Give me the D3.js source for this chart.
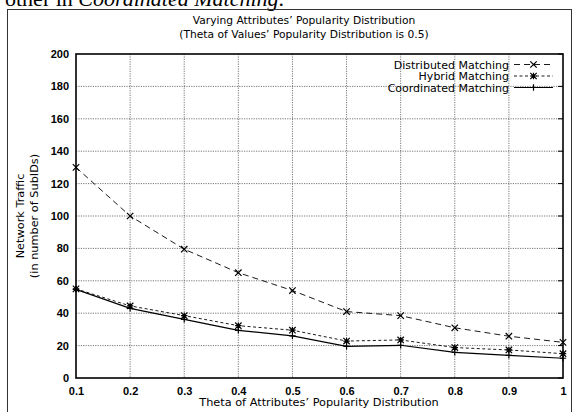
<!DOCTYPE html>
<html>
<head>
<meta charset="utf-8">
<script src="https://d3js.org/d3.v7.min.js"></script>
<style>
  body { margin: 0; background: #fff; }
  text { font-family: "DejaVu Sans", sans-serif; }
  .tick-lbl { font-family: "Liberation Sans", Arial, sans-serif; font-weight: bold; font-size: 11px; }
  .grid line { stroke: #555; stroke-width: 0.8; stroke-dasharray: 1.2 1.2; }
</style>
</head>
<body>
<svg width="580" height="412"></svg>
<script>
var thetas = [0.1, 0.2, 0.3, 0.4, 0.5, 0.6, 0.7, 0.8, 0.9, 1];
var distributed = [130, 100, 79.5, 65, 54, 41, 38.5, 31, 25.8, 22];
var hybrid = [55, 44.5, 38.5, 32.3, 29.5, 22.8, 23.5, 18.8, 17.3, 15];
var coordinated = [54.7, 43, 36.2, 29.4, 26, 19.5, 20.2, 15.8, 14, 12.2];
var yTicks = [0, 20, 40, 60, 80, 100, 120, 140, 160, 180, 200];
var xTickLabels = ["0.1", "0.2", "0.3", "0.4", "0.5", "0.6", "0.7", "0.8", "0.9", "1"];

var series = [
  {name: "Distributed Matching", values: distributed, dash: "6 4", marker: "x"},
  {name: "Hybrid Matching", values: hybrid, dash: "3 2.5", marker: "*"},
  {name: "Coordinated Matching", values: coordinated, dash: null, marker: "+"}
];

var svg = d3.select("svg");
var pLeft = 76, pRight = 563, pTop = 54, pBottom = 378;

var x = d3.scaleLinear().domain([0.1, 1]).range([pLeft, pRight]);
var y = d3.scaleLinear().domain([0, 200]).range([pBottom, pTop]);

// cropped line of the paper above the figure
var frag = svg.append("text").attr("x", 5).attr("y", 6)
  .style("font-family", "'Liberation Serif', serif").style("font-size", "22px");
frag.append("tspan").text("other in ");
frag.append("tspan").style("font-style", "italic").text("Coordinated Matching");
frag.append("tspan").text(".");

// outer frame
svg.append("rect").attr("x", 7.5).attr("y", 9.5).attr("width", 564).attr("height", 410)
  .attr("fill", "none").attr("stroke", "#333").attr("stroke-width", 1);

// title
svg.append("text").attr("x", 304).attr("y", 24).attr("text-anchor", "middle")
  .style("font-size", "10.7px").text("Varying Attributes\u2019 Popularity Distribution");
svg.append("text").attr("x", 304).attr("y", 38).attr("text-anchor", "middle")
  .style("font-size", "10.7px").text("(Theta of Values\u2019 Popularity Distribution is 0.5)");

// grid
var grid = svg.append("g").attr("class", "grid");
grid.selectAll(".h").data(yTicks.slice(1, -1)).enter().append("line")
  .attr("x1", pLeft).attr("x2", pRight).attr("y1", d => y(d)).attr("y2", d => y(d));
grid.selectAll(".v").data(thetas.slice(1, -1)).enter().append("line")
  .attr("y1", pTop).attr("y2", pBottom).attr("x1", d => x(d)).attr("x2", d => x(d));

// axes
var xAxis = d3.axisBottom(x).tickValues(thetas).tickSize(0).tickPadding(9)
  .tickFormat((d, i) => xTickLabels[i]);
var gx = svg.append("g").attr("transform", "translate(0," + pBottom + ")").call(xAxis);
gx.select(".domain").remove();
gx.selectAll("text").attr("class", "tick-lbl").attr("fill", "#000");

var yAxis = d3.axisLeft(y).tickValues(yTicks).tickSize(0).tickPadding(7);
var gy = svg.append("g").attr("transform", "translate(" + pLeft + ",0)").call(yAxis);
gy.select(".domain").remove();
gy.selectAll("text").attr("class", "tick-lbl").attr("fill", "#000");

// right side tick marks
svg.append("g").selectAll("line").data(yTicks).enter().append("line")
  .attr("x1", pRight - 5).attr("x2", pRight).attr("y1", d => y(d)).attr("y2", d => y(d))
  .attr("stroke", "#000");

// plot border
svg.append("rect").attr("x", pLeft).attr("y", pTop).attr("width", pRight - pLeft).attr("height", pBottom - pTop)
  .attr("fill", "none").attr("stroke", "#000").attr("stroke-width", 1.6);

// axis labels
svg.append("text").attr("x", 319).attr("y", 406).attr("text-anchor", "middle")
  .style("font-size", "11.3px").text("Theta of Attributes\u2019 Popularity Distribution");
var yl = svg.append("text").attr("transform", "translate(24,216) rotate(-90)")
  .attr("text-anchor", "middle").style("font-size", "11.3px");
yl.append("tspan").attr("x", 0).attr("dy", 0).text("Network Traffic");
yl.append("tspan").attr("x", 0).attr("dy", 14).text("(in number of SubIDs)");

function marker(g, type, cx, cy) {
  var s = 3.2, p;
  if (type === "x") p = `M${cx-s},${cy-s}L${cx+s},${cy+s}M${cx-s},${cy+s}L${cx+s},${cy-s}`;
  else if (type === "+") p = `M${cx-s},${cy}L${cx+s},${cy}M${cx},${cy-s}L${cx},${cy+s}`;
  else p = `M${cx-s},${cy}L${cx+s},${cy}M${cx},${cy-s}L${cx},${cy+s}M${cx-s},${cy-s}L${cx+s},${cy+s}M${cx-s},${cy+s}L${cx+s},${cy-s}`;
  g.append("path").attr("d", p).attr("stroke", "#000").attr("stroke-width", 1.2).attr("fill", "none");
}

var line = d3.line().x(d => x(d[0])).y(d => y(d[1]));
series.forEach(function(s) {
  var pts = thetas.map((t, i) => [t, s.values[i]]);
  svg.append("path").datum(pts).attr("d", line).attr("fill", "none")
    .attr("stroke", "#000").attr("stroke-width", s.dash ? 0.9 : 1.2)
    .attr("stroke-dasharray", s.dash);
  var g = svg.append("g");
  pts.forEach(p => marker(g, s.marker, x(p[0]), y(p[1])));
});

// legend
var lg = svg.append("g");
series.forEach(function(s, i) {
  var ly = 64.5 + i * 11.5;
  lg.append("text").attr("x", 509).attr("y", ly + 4).attr("text-anchor", "end")
    .style("font-size", "11px").text(s.name);
  lg.append("line").attr("x1", 514).attr("x2", 553).attr("y1", ly).attr("y2", ly)
    .attr("stroke", "#000").attr("stroke-width", s.dash ? 0.9 : 1.2).attr("stroke-dasharray", s.dash);
  marker(lg, s.marker, 533.5, ly);
});
</script>
</body>
</html>
